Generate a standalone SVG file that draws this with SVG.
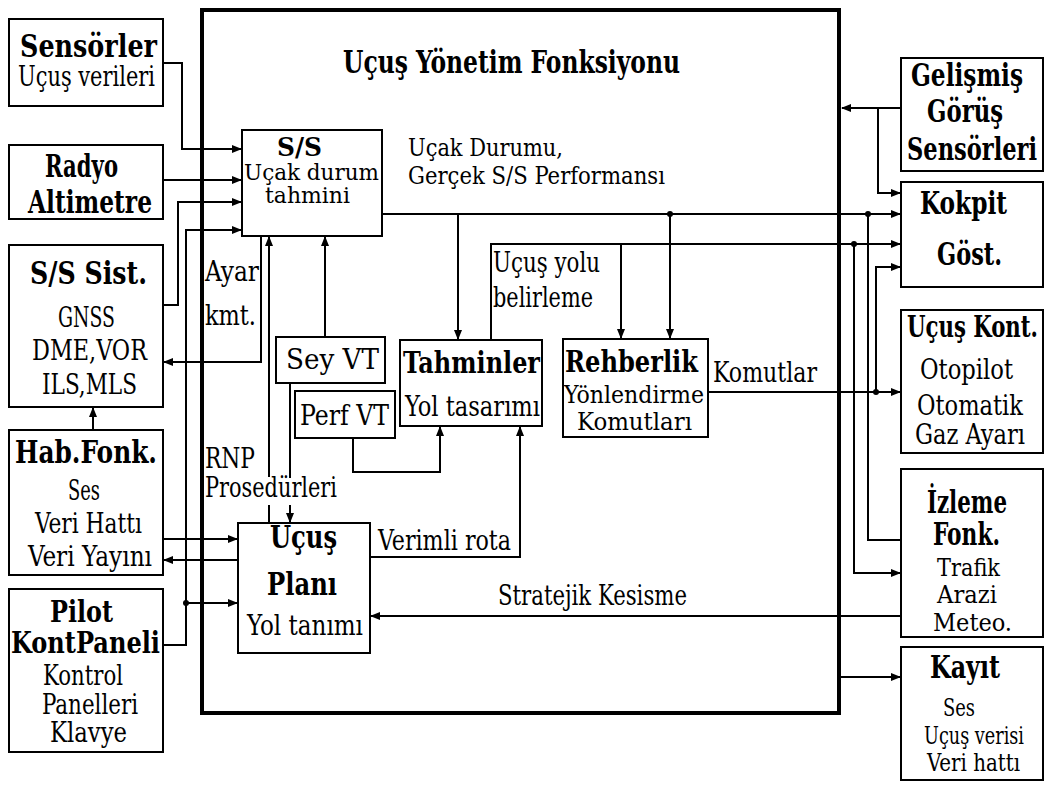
<svg xmlns="http://www.w3.org/2000/svg" width="1046" height="785" viewBox="0 0 1046 785">
<style>
.box{fill:#fff;stroke:#000;stroke-width:2}
.frame{fill:none;stroke:#000;stroke-width:4}
.ln{fill:none;stroke:#000;stroke-width:2}
.arr{marker-end:url(#ah)}
.dot{fill:#000}
text{font-family:"DejaVu Serif","Liberation Serif",serif;font-stretch:condensed;fill:#000}
.b{font-weight:bold;font-size:31px}
.r{font-size:27px}
.t{font-size:25px}
.s{font-size:22px}
</style>
<defs>
<marker id="ah" markerWidth="10" markerHeight="10" refX="9" refY="5" orient="auto" markerUnits="userSpaceOnUse">
<path d="M0,1 L10,5 L0,9 z" fill="#000"/>
</marker>
</defs>
<rect width="1046" height="785" fill="#fff"/>

<g id="connectors">
<path class="ln arr" d="M163,63 H182 V149 H241"/>
<path class="ln arr" d="M163,180 H241"/>
<path class="ln arr" d="M163,305 H178 V202 H241"/>
<path class="ln arr" d="M163,645 H186 V230 H241"/>
<path class="ln arr" d="M186,603 H237"/>
<circle class="dot" cx="186" cy="603" r="3"/>
<path class="ln arr" d="M163,539 H237"/>
<path class="ln arr" d="M238,560 H164"/>
<path class="ln arr" d="M93,430 V408"/>
<path class="ln arr" d="M261,237 V362 H164"/>
<path class="ln" d="M269,523 V505"/>
<path class="ln arr" d="M269,477 V237"/>
<path class="ln arr" d="M325,337 V237"/>
<path class="ln" d="M290,383 V478"/>
<path class="ln arr" d="M290,505 V522"/>
<path class="ln arr" d="M353,438 V472 H440 V427"/>
<path class="ln arr" d="M370,557 H520 V427"/>
<path class="ln arr" d="M382,214 H900"/>
<path class="ln arr" d="M458,214 V339"/>
<path class="ln arr" d="M670,214 V338"/>
<circle class="dot" cx="670" cy="214" r="3"/>
<path class="ln" d="M868,214 V540 H901"/>
<circle class="dot" cx="868" cy="214" r="3"/>
<path class="ln arr" d="M491,340 V244 H900"/>
<path class="ln arr" d="M621,244 V338"/>
<path class="ln arr" d="M854,244 V573 H900"/>
<circle class="dot" cx="854" cy="244" r="3"/>
<path class="ln arr" d="M708,392 H900"/>
<path class="ln arr" d="M876,392 V267 H900"/>
<circle class="dot" cx="876" cy="392" r="3"/>
<path class="ln arr" d="M901,108 H842"/>
<path class="ln arr" d="M878,108 V193 H900"/>
<path class="ln arr" d="M841,677 H900"/>
<path class="ln arr" d="M901,616 H371"/>
</g>

<g id="ucus-yonetim-frame">
<rect class="frame" x="202" y="10" width="637" height="703"/>
<text class="b" x="343" y="73" textLength="337" lengthAdjust="spacingAndGlyphs">Uçuş Yönetim Fonksiyonu</text>
</g>

<g id="sensorler">
<rect class="box" x="9" y="19" width="154" height="87"/>
<text class="b" x="20" y="57" textLength="137" lengthAdjust="spacingAndGlyphs">Sensörler</text>
<text class="r" x="18" y="86" textLength="137" lengthAdjust="spacingAndGlyphs">Uçuş verileri</text>
</g>

<g id="radyo-altimetre">
<rect class="box" x="9" y="145" width="154" height="74"/>
<text class="b" x="45" y="177" textLength="73" lengthAdjust="spacingAndGlyphs">Radyo</text>
<text class="b" x="28" y="213" textLength="124" lengthAdjust="spacingAndGlyphs">Altimetre</text>
</g>

<g id="ss-sist">
<rect class="box" x="9" y="245" width="154" height="162"/>
<text class="b" x="30" y="284" textLength="117" lengthAdjust="spacingAndGlyphs">S/S Sist.</text>
<text class="r" x="58" y="327" textLength="57" lengthAdjust="spacingAndGlyphs">GNSS</text>
<text class="r" x="32" y="360" textLength="115" lengthAdjust="spacingAndGlyphs">DME,VOR</text>
<text class="r" x="42" y="394" textLength="95" lengthAdjust="spacingAndGlyphs">ILS,MLS</text>
</g>

<g id="hab-fonk">
<rect class="box" x="9" y="430" width="154" height="145"/>
<text class="b" x="15" y="463" textLength="142" lengthAdjust="spacingAndGlyphs">Hab.Fonk.</text>
<text class="r" x="68" y="500" textLength="32" lengthAdjust="spacingAndGlyphs">Ses</text>
<text class="r" x="35" y="533" textLength="107" lengthAdjust="spacingAndGlyphs">Veri Hattı</text>
<text class="r" x="28" y="566" textLength="124" lengthAdjust="spacingAndGlyphs">Veri Yayını</text>
</g>

<g id="pilot-kontpaneli">
<rect class="box" x="9" y="589" width="154" height="163"/>
<text class="b" x="50" y="622" style="font-size:29px" textLength="63" lengthAdjust="spacingAndGlyphs">Pilot</text>
<text class="b" x="11" y="653" style="font-size:29px" textLength="149" lengthAdjust="spacingAndGlyphs">KontPaneli</text>
<text class="r" x="43" y="685" textLength="80" lengthAdjust="spacingAndGlyphs">Kontrol</text>
<text class="r" x="42" y="714" textLength="96" lengthAdjust="spacingAndGlyphs">Panelleri</text>
<text class="r" x="50" y="742" textLength="77" lengthAdjust="spacingAndGlyphs">Klavye</text>
</g>

<g id="ss-tahmin">
<rect class="box" x="242" y="130" width="140" height="106"/>
<text class="b" x="277" y="156" style="font-size:26px" textLength="45" lengthAdjust="spacingAndGlyphs">S/S</text>
<text class="s" x="244" y="180" textLength="135" lengthAdjust="spacingAndGlyphs">Uçak durum</text>
<text class="s" x="265" y="203" textLength="85" lengthAdjust="spacingAndGlyphs">tahmini</text>
</g>

<g id="sey-vt">
<rect class="box" x="276" y="337" width="109" height="46"/>
<text class="r" x="286" y="369" textLength="93" lengthAdjust="spacingAndGlyphs">Sey VT</text>
</g>

<g id="perf-vt">
<rect class="box" x="295" y="391" width="100" height="47"/>
<text class="r" x="300" y="425" textLength="89" lengthAdjust="spacingAndGlyphs">Perf VT</text>
</g>

<g id="tahminler">
<rect class="box" x="400" y="340" width="142" height="86"/>
<text class="b" x="403" y="373" style="font-size:30px" textLength="137" lengthAdjust="spacingAndGlyphs">Tahminler</text>
<text class="r" x="405" y="416" textLength="135" lengthAdjust="spacingAndGlyphs">Yol tasarımı</text>
</g>

<g id="rehberlik">
<rect class="box" x="563" y="339" width="145" height="98"/>
<text class="b" x="565" y="372" style="font-size:30px" textLength="133" lengthAdjust="spacingAndGlyphs">Rehberlik</text>
<text class="t" x="564" y="403" textLength="140" lengthAdjust="spacingAndGlyphs">Yönlendirme</text>
<text class="t" x="577" y="430" textLength="115" lengthAdjust="spacingAndGlyphs">Komutları</text>
</g>

<g id="ucus-plani">
<rect class="box" x="238" y="523" width="132" height="130"/>
<text class="b" x="270" y="548" textLength="67" lengthAdjust="spacingAndGlyphs">Uçuş</text>
<text class="b" x="267" y="595" textLength="70" lengthAdjust="spacingAndGlyphs">Planı</text>
<text class="r" x="247" y="635" textLength="116" lengthAdjust="spacingAndGlyphs">Yol tanımı</text>
</g>

<g id="labels">
<text class="t" x="408" y="156" textLength="155" lengthAdjust="spacingAndGlyphs">Uçak Durumu,</text>
<text class="t" x="408" y="184" textLength="257" lengthAdjust="spacingAndGlyphs">Gerçek S/S Performansı</text>
<text class="r" x="205" y="281" textLength="54" lengthAdjust="spacingAndGlyphs">Ayar</text>
<text class="r" x="205" y="325" textLength="51" lengthAdjust="spacingAndGlyphs">kmt.</text>
<text class="r" x="493" y="272" textLength="107" lengthAdjust="spacingAndGlyphs">Uçuş yolu</text>
<text class="r" x="493" y="307" textLength="100" lengthAdjust="spacingAndGlyphs">belirleme</text>
<text class="r" x="713" y="382" textLength="104" lengthAdjust="spacingAndGlyphs">Komutlar</text>
<text class="r" x="205" y="468" textLength="50" lengthAdjust="spacingAndGlyphs">RNP</text>
<text class="r" x="205" y="497" textLength="132" lengthAdjust="spacingAndGlyphs">Prosedürleri</text>
<text class="r" x="378" y="550" textLength="133" lengthAdjust="spacingAndGlyphs">Verimli rota</text>
<text class="r" x="498" y="605" textLength="189" lengthAdjust="spacingAndGlyphs">Stratejik Kesisme</text>
</g>

<g id="gelismis-gorus">
<rect class="box" x="901" y="58" width="142" height="113"/>
<text class="b" x="911" y="86" textLength="112" lengthAdjust="spacingAndGlyphs">Gelişmiş</text>
<text class="b" x="927" y="122" textLength="76" lengthAdjust="spacingAndGlyphs">Görüş</text>
<text class="b" x="907" y="160" textLength="130" lengthAdjust="spacingAndGlyphs">Sensörleri</text>
</g>

<g id="kokpit">
<rect class="box" x="901" y="182" width="142" height="105"/>
<text class="b" x="920" y="214" textLength="87" lengthAdjust="spacingAndGlyphs">Kokpit</text>
<text class="b" x="937" y="265" textLength="65" lengthAdjust="spacingAndGlyphs">Göst.</text>
</g>

<g id="ucus-kont">
<rect class="box" x="901" y="310" width="142" height="143"/>
<text class="b" x="907" y="337" style="font-size:29px" textLength="131" lengthAdjust="spacingAndGlyphs">Uçuş Kont.</text>
<text class="r" x="920" y="379" textLength="93" lengthAdjust="spacingAndGlyphs">Otopilot</text>
<text class="r" x="917" y="415" textLength="106" lengthAdjust="spacingAndGlyphs">Otomatik</text>
<text class="r" x="915" y="444" textLength="110" lengthAdjust="spacingAndGlyphs">Gaz Ayarı</text>
</g>

<g id="izleme-fonk">
<rect class="box" x="901" y="469" width="142" height="168"/>
<text class="b" x="927" y="513" textLength="80" lengthAdjust="spacingAndGlyphs">İzleme</text>
<text class="b" x="933" y="545" textLength="67" lengthAdjust="spacingAndGlyphs">Fonk.</text>
<text class="t" x="937" y="576" textLength="63" lengthAdjust="spacingAndGlyphs">Trafik</text>
<text class="t" x="937" y="603" textLength="60" lengthAdjust="spacingAndGlyphs">Arazi</text>
<text class="t" x="933" y="631" textLength="79" lengthAdjust="spacingAndGlyphs">Meteo.</text>
</g>

<g id="kayit">
<rect class="box" x="901" y="647" width="142" height="133"/>
<text class="b" x="930" y="678" textLength="70" lengthAdjust="spacingAndGlyphs">Kayıt</text>
<text class="t" x="943" y="716" textLength="32" lengthAdjust="spacingAndGlyphs">Ses</text>
<text class="t" x="924" y="744" textLength="100" lengthAdjust="spacingAndGlyphs">Uçuş verisi</text>
<text class="t" x="927" y="771" textLength="93" lengthAdjust="spacingAndGlyphs">Veri hattı</text>
</g>
</svg>
